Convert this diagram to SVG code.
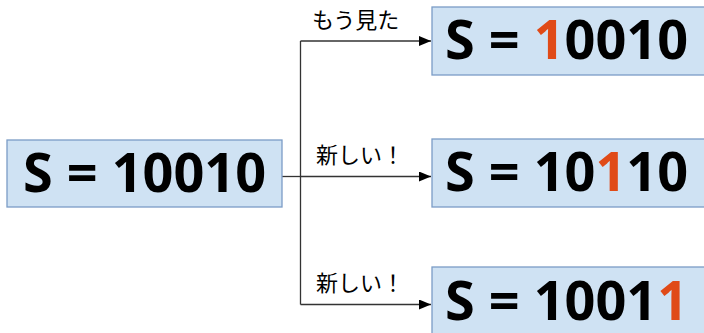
<svg xmlns="http://www.w3.org/2000/svg" width="704" height="333" viewBox="0 0 704 333">
<style>
.box{fill:#cfe2f3;stroke:#7b9cc6;stroke-width:1.3}
.big{font-family:"Open Sans","Noto Sans",sans-serif;font-weight:bold;font-size:54px;fill:#000}
.hl{fill:#e04a17}
.lbl{font-family:"Noto Sans CJK JP",sans-serif;font-size:22px;fill:#000}
.con{fill:none;stroke:#333;stroke-width:1.3}
</style>
<defs>
<marker id="arr" markerWidth="12" markerHeight="10" refX="12" refY="5" orient="auto" markerUnits="userSpaceOnUse">
<path d="M0,0 L12,5 L0,10 Z" fill="#000"/>
</marker>
</defs>
<g id="connectors">
<path class="con" d="M282,176.5 H300.5"/>
<path class="con" d="M300.5,41 V304.5"/>
<path class="con" d="M300.5,41 H431" marker-end="url(#arr)"/>
<path class="con" d="M300.5,176.5 H431" marker-end="url(#arr)"/>
<path class="con" d="M300.5,304.5 H431" marker-end="url(#arr)"/>
<text class="lbl" x="312" y="28">もう見た</text>
<text class="lbl" x="316" y="163">新しい！</text>
<text class="lbl" x="316" y="291">新しい！</text>
</g>
<g id="start">
<rect class="box" x="7" y="140" width="275" height="67"/>
<text class="big" x="144.5" y="192" text-anchor="middle">S = 10010</text>
</g>
<g id="seen">
<rect class="box" x="432" y="7" width="280" height="68"/>
<text class="big" x="445" y="59">S = <tspan class="hl">1</tspan>0010</text>
</g>
<g id="new1">
<rect class="box" x="432" y="139" width="280" height="68"/>
<text class="big" x="445" y="191">S = 10<tspan class="hl">1</tspan>10</text>
</g>
<g id="new2">
<rect class="box" x="432" y="267" width="280" height="80"/>
<text class="big" x="445" y="320">S = 1001<tspan class="hl">1</tspan></text>
</g>
</svg>
